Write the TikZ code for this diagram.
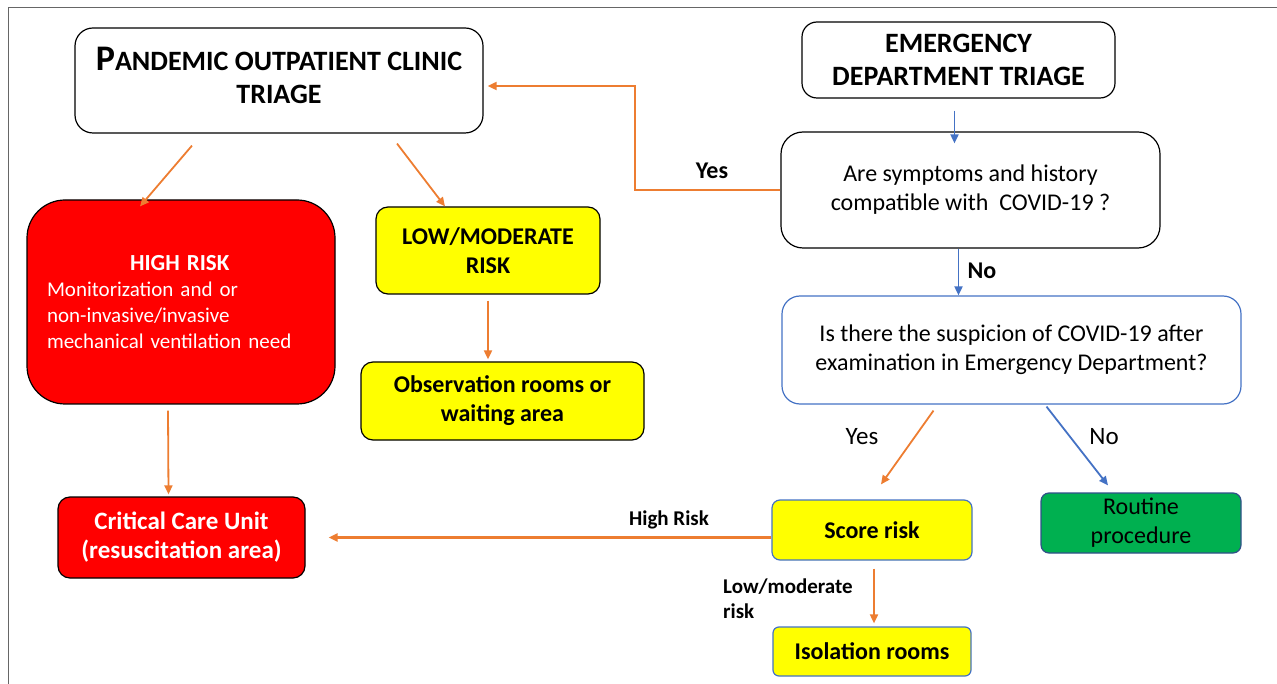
\documentclass[tikz,border=0pt]{standalone}
\usepackage{fontspec}
\setmainfont{Carlito}
\usetikzlibrary{arrows.meta}
\definecolor{linkorange}{HTML}{ED7D31}
\definecolor{linkblue}{HTML}{4472C4}
\definecolor{riskred}{HTML}{FF0000}
\definecolor{riskyellow}{HTML}{FFFF00}
\definecolor{okgreen}{HTML}{00B050}
\begin{document}
\begin{tikzpicture}
    [
        x=1pt, y=-1pt,
        box/.style={rectangle, draw, line width=1.2pt, inner sep=0pt, align=center, rounded corners=#1},
        box/.default=15pt,
        headtext/.style={font=\bfseries\fontsize{28}{33}\selectfont},
        asktext/.style={font=\fontsize{24}{29}\selectfont},
        boldtext/.style={font=\bfseries\fontsize{24}{29}\selectfont},
        redbox/.style={fill=riskred, text=white},
        yellowbox/.style={fill=riskyellow},
        orangelink/.style={draw=linkorange, line width=1.8pt, -{Triangle[length=9pt,width=8pt]}},
        bluelink/.style={draw=linkblue, line width=1.8pt, -{Triangle[length=9pt,width=8pt]}},
        linklabel/.style={inner sep=0pt, font=\bfseries\fontsize{24}{25}\selectfont},
    ]
    \useasboundingbox (0,0) rectangle (1277,684);
    \draw [black!60, line width=1pt] (8,684) -- (8,8) -- (1277,8);
    \node (pandemic) at (279,80.5) [box=18pt, headtext, minimum width=408pt, minimum height=105pt]
        {{\fontsize{36}{33}\selectfont P}ANDEMIC OUTPATIENT CLINIC\\TRIAGE\\[-23pt]};
    \node (emergency) at (958.5,60) [box=15pt, headtext, minimum width=313pt, minimum height=76pt]
        {EMERGENCY\\DEPARTMENT TRIAGE};
    \node (symptoms) at (970.5,190) [box=22pt, asktext, minimum width=379pt, minimum height=116pt]
        {Are symptoms and history\\compatible with\ \ COVID-19 ?};
    \node (suspicion) at (1011.5,350) [box=18pt, asktext, draw=linkblue, minimum width=459pt, minimum height=108pt]
        {Is there the suspicion of COVID-19 after\\examination in Emergency Department?};
    \node (highrisk) at (181,302) [box=38pt, redbox, minimum width=308pt, minimum height=204pt,
        align=left, text width=268pt, font=\fontsize{21}{26}\selectfont]
        {\hspace*{83pt}{\bfseries\fontsize{23}{26}\selectfont HIGH RISK}\\Monitorization and or\\non-invasive/invasive\\mechanical ventilation need};
    \node (lowmod) at (488,250.5) [box=12pt, yellowbox, boldtext, minimum width=224pt, minimum height=87pt]
        {LOW/MODERATE\\RISK};
    \node (observation) at (502.5,401) [box=12pt, yellowbox, boldtext, minimum width=283pt, minimum height=78pt]
        {Observation rooms or\\waiting area};
    \node (critical) at (181.5,537.5) [box=12pt, redbox, boldtext, font=\bfseries\fontsize{25}{29}\selectfont, minimum width=247pt, minimum height=81pt]
        {Critical Care Unit\\(resuscitation area)};
    \node (score) at (872,530) [box=8pt, yellowbox, boldtext, draw=linkblue, minimum width=200pt, minimum height=60pt]
        {Score risk};
    \node (isolation) at (872,651.5) [box=6pt, yellowbox, boldtext, draw=linkblue, minimum width=198pt, minimum height=49pt]
        {Isolation rooms};
    \node (routine) at (1141,523) [box=8pt, fill=okgreen, draw=linkblue!70!black, asktext, minimum width=200pt, minimum height=60pt]
        {Routine\\procedure};
    \coordinate (bend) at (635,86);
    \draw [orangelink] ([xshift=-87pt,yshift=-12pt]pandemic.south) -- ([xshift=-41pt,yshift=-7pt]highrisk.north);
    \draw [orangelink] ([xshift=118pt,yshift=-10pt]pandemic.south) -- ([xshift=-43pt]lowmod.north);
    \draw [orangelink] ([yshift=-6pt]lowmod.south) -- ([yshift=2pt]lowmod.south |- observation.north);
    \draw [orangelink] ([xshift=-13pt,yshift=-6pt]highrisk.south) -- ([xshift=-13pt,yshift=2pt]critical.north);
    \draw [orangelink] (symptoms.west) -| (bend) -- ([xshift=4pt]bend -| pandemic.east);
    \node (yesleft) at (712,171) [linklabel] {Yes};
    \draw [bluelink] ([xshift=-4pt,yshift=-12pt]emergency.south) -- ([xshift=-16pt,yshift=-12pt]symptoms.north);
    \draw [bluelink] ([xshift=-12pt]symptoms.south) -- ([xshift=-12pt]symptoms.south |- suspicion.north);
    \node (nomid) at (982,271) [linklabel] {No};
    \draw [orangelink] ([xshift=-78pt,yshift=-6pt]suspicion.south) -- ([xshift=9pt,yshift=15pt]score.north);
    \node (yesright) at (862,437) [linklabel, font=\fontsize{25}{25}\selectfont] {Yes};
    \draw [bluelink] ([xshift=35pt,yshift=-2pt]suspicion.south) -- ([xshift=-33pt,yshift=7pt]routine.north);
    \node (noright) at (1104,437) [linklabel, font=\fontsize{25}{25}\selectfont] {No};
    \draw [orangelink, line width=2.6pt] (score.west |- critical.east) -- ([xshift=23pt]critical.east);
    \node (highlabel) at (669,520) [linklabel, font=\bfseries\fontsize{21}{25}\selectfont] {High Risk};
    \draw [orangelink] ([xshift=2pt,yshift=-8pt]score.south) -- ([xshift=2pt,yshift=3pt]isolation.north);
    \node (lowlabel) at (723,598.5) [linklabel, anchor=west, align=left, font=\bfseries\fontsize{21}{25}\selectfont] {Low/moderate\\risk};
\end{tikzpicture}
\end{document}
